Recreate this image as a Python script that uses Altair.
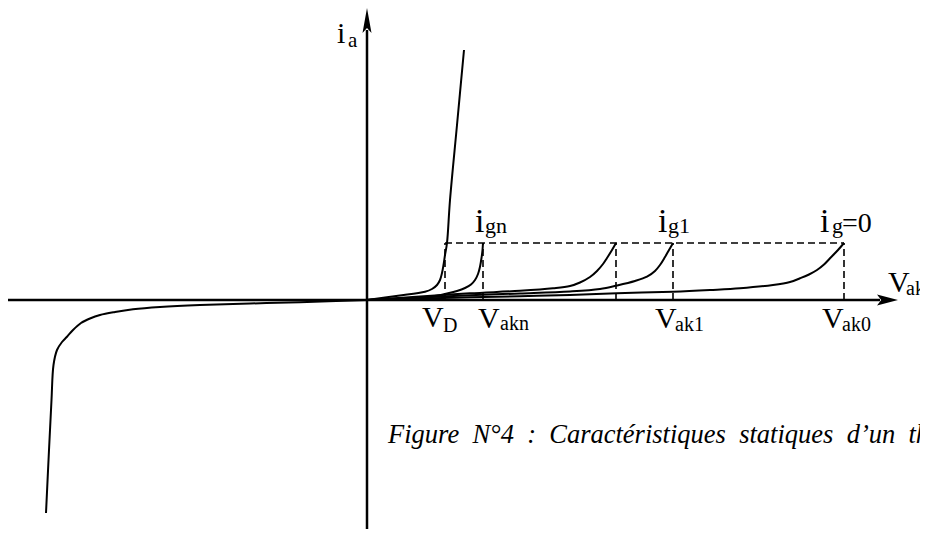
import altair as alt
import pandas as pd

# ---------------- data (arbitrary units: V_ak horizontal, i_a vertical) ----------------
# reverse (blocking / avalanche) branch
rev_v = [-32.1, -31.8, -31.55, -31.35, -31.0, -30.5, -30.0, -29.4, -28.6, -27.7, -26.7,
         -25.2, -23.4, -20.7, -16.7, -11.7, -6.7, 0.0]
rev_i = [-21.3, -15.0, -10.0, -6.5, -5.0, -4.2, -3.67, -3.0, -2.3, -1.85, -1.5,
         -1.2, -0.93, -0.7, -0.5, -0.35, -0.23, 0.0]
# on-state (V_D) branch
vd_v = [0.0, 3.1, 5.8, 6.5, 7.0, 7.3, 7.5, 7.65, 7.8, 8.0, 8.3, 9.0, 9.7]
vd_i = [0.0, 0.43, 0.83, 1.1, 1.5, 2.0, 2.7, 3.5, 4.5, 5.7, 10.0, 17.5, 25.0]
# forward branches for several gate currents
ign_v = [0.0, 3.3, 6.5, 8.1, 9.0, 9.8, 10.4, 10.8, 11.1, 11.3, 11.45, 11.55, 11.6]
ign_i = [0.0, 0.1, 0.35, 0.67, 0.9, 1.2, 1.55, 2.0, 2.6, 3.33, 4.2, 5.0, 5.7]
ig2_v = [0.0, 5.3, 10.3, 15.3, 18.6, 20.3, 21.3, 22.3, 23.0, 23.6, 24.0, 24.5, 24.9]
ig2_i = [0.0, 0.35, 0.67, 0.92, 1.17, 1.4, 1.75, 2.3, 2.9, 3.6, 4.2, 5.0, 5.7]
ig1_v = [0.0, 5.3, 10.3, 15.3, 20.3, 23.3, 25.0, 26.8, 28.0, 28.8, 29.3, 29.8, 30.2, 30.6]
ig1_i = [0.0, 0.26, 0.48, 0.65, 0.85, 1.1, 1.45, 1.9, 2.33, 2.9, 3.5, 4.3, 5.0, 5.7]
ig0_v = [0.0, 5.3, 10.3, 15.3, 20.3, 25.0, 30.6, 34.3, 37.3, 40.6, 42.3, 43.3, 44.2,
         45.0, 45.7, 46.3, 47.1, 47.7]
ig0_i = [0.0, 0.14, 0.27, 0.38, 0.5, 0.67, 0.83, 1.0, 1.17, 1.5, 1.8, 2.17, 2.55,
         3.0, 3.55, 4.17, 5.0, 5.7]

# latching current level and the voltages marked on the axis
latch_i = 5.7
mark_v = [7.8, 11.6, 24.9, 30.6, 47.7]

# axis extents
x_lo, x_hi = -35.9, 55.3
y_lo, y_hi = -22.9, 29.2
h_axis_end, h_arrow = 51.3, 52.05
v_axis_end, v_arrow = 27.0, 27.95

# labels (main letter + subscript)
main_txt = ["i", "i", "i", "i", "V", "V", "V", "V", "V", "=0"]
main_v = [-3.0, 10.8, 29.1, 45.3, 5.5, 11.1, 28.8, 45.5, 52.1, 47.5]
main_i = [25.7, 6.8, 6.8, 6.8, -2.7, -2.8, -2.8, -2.8, 0.8, 6.8]
main_fs = [30, 34, 34, 34, 30, 30, 30, 30, 30, 28]
sub_txt = ["a", "gn", "g1", "g", "D", "akn", "ak1", "ak0", "ak"]
sub_v = [-1.9, 11.8, 30.1, 46.5, 7.6, 13.3, 30.8, 47.5, 53.9]
sub_i = [25.3, 6.7, 6.7, 6.7, -3.15, -3.0, -3.1, -3.1, 0.5]
sub_fs = [21, 22, 22, 22, 20, 20, 20, 20, 20]

caption = "Figure\u2002N°4\u2002:\u2002Caractéristiques\u2002statiques\u2002d’un\u2002thyristor."
caption_v, caption_i = 2.1, -14.3

# ---------------- tables ----------------
curves = []
for name, vs, is_ in [("rev", rev_v, rev_i), ("vd", vd_v, vd_i), ("ign", ign_v, ign_i),
                      ("ig2", ig2_v, ig2_i), ("ig1", ig1_v, ig1_i), ("ig0", ig0_v, ig0_i)]:
    for k, (a, b) in enumerate(zip(vs, is_)):
        curves.append({"curve": name, "v": a, "i": b, "o": k})
curves = pd.DataFrame(curves)

axes_df = pd.DataFrame([
    {"v": x_lo, "v2": h_axis_end, "i": 0.0, "i2": 0.0},
    {"v": 0.0, "v2": 0.0, "i": y_lo, "i2": v_axis_end},
])
dash_df = pd.DataFrame(
    [{"v": mark_v[0], "v2": mark_v[-1], "i": latch_i, "i2": latch_i}]
    + [{"v": m, "v2": m, "i": 0.0, "i2": latch_i} for m in mark_v]
)
up_df = pd.DataFrame([{"v": 0.0, "i": v_arrow}])
right_df = pd.DataFrame([{"v": h_arrow, "i": 0.0}])
main_df = pd.DataFrame({"t": main_txt, "v": main_v, "i": main_i, "fs": main_fs})
sub_df = pd.DataFrame({"t": sub_txt, "v": sub_v, "i": sub_i, "fs": sub_fs})
cap_df = pd.DataFrame({"t": [caption], "v": [caption_v], "i": [caption_i]})

SERIF = "Liberation Serif, 'Times New Roman', Times, serif"

xs = alt.Scale(domain=[x_lo, x_hi], nice=False, zero=False)
ys = alt.Scale(domain=[y_lo, y_hi], nice=False, zero=False)
X = alt.X("v:Q", scale=xs, axis=None)
Y = alt.Y("i:Q", scale=ys, axis=None)

lines = alt.Chart(curves).mark_line(
    interpolate="catmull-rom", color="black", strokeWidth=2
).encode(x=X, y=Y, detail="curve:N", order="o:Q")

axes = alt.Chart(axes_df).mark_rule(color="black", strokeWidth=2.5).encode(
    x=X, x2="v2:Q", y=Y, y2="i2:Q")

dashes = alt.Chart(dash_df).mark_rule(
    color="black", strokeWidth=1.6, strokeDash=[7, 4]
).encode(x=X, x2="v2:Q", y=Y, y2="i2:Q")

up_arrow = alt.Chart(up_df).mark_point(
    shape="M0,-1L0.36,1L0,0.6L-0.36,1Z", size=625, filled=True,
    color="black", opacity=1
).encode(x=X, y=Y)

right_arrow = alt.Chart(right_df).mark_point(
    shape="M1,0L-1,-0.52L-0.6,0L-1,0.52Z", size=441, filled=True,
    color="black", opacity=1
).encode(x=X, y=Y)

main_lbl = alt.Chart(main_df).mark_text(
    align="left", baseline="alphabetic", font=SERIF, color="black", clip=True
).encode(x=X, y=Y, text="t:N", size=alt.Size("fs:Q", scale=None))

sub_lbl = alt.Chart(sub_df).mark_text(
    align="left", baseline="alphabetic", font=SERIF, color="black", clip=True
).encode(x=X, y=Y, text="t:N", size=alt.Size("fs:Q", scale=None))

cap_lbl = alt.Chart(cap_df).mark_text(
    align="left", baseline="alphabetic", font=SERIF, fontStyle="italic",
    fontSize=26.5, color="black", clip=True
).encode(x=X, y=Y, text="t:N")

chart = alt.layer(
    axes, dashes, lines, up_arrow, right_arrow, main_lbl, sub_lbl, cap_lbl
).properties(
    width=912, height=521, padding=0,
    autosize=alt.AutoSizeParams(type="none"),
    background="white",
).configure_view(stroke=None)

chart.save("out.html", embed_options={"renderer": "svg", "actions": False})
